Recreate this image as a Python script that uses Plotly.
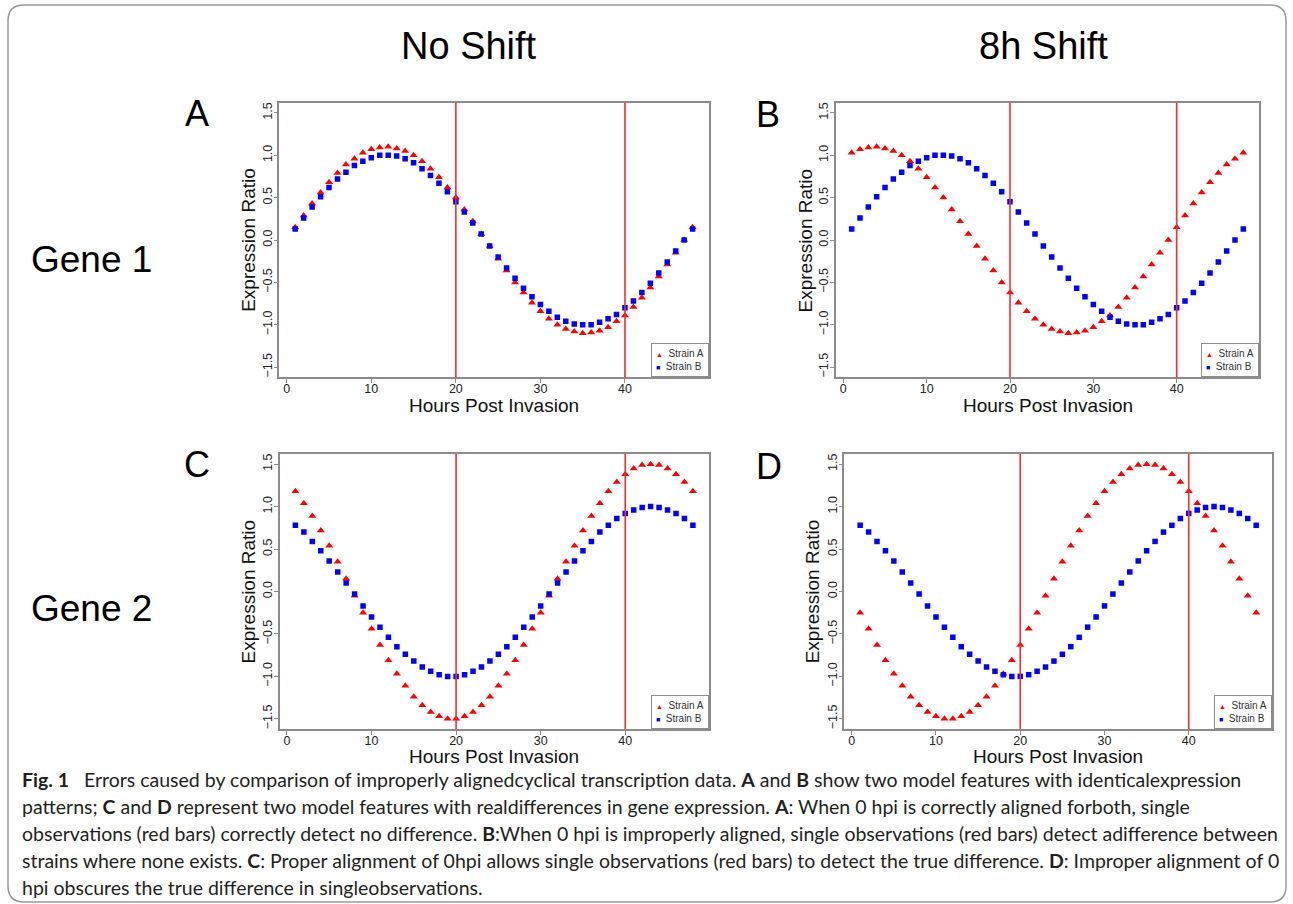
import plotly.graph_objects as go

W, H = 1293, 904

# ---------------- data ----------------
hours = [1, 2, 3, 4, 5, 6, 7, 8, 9, 10, 11, 12, 13, 14, 15, 16, 17, 18, 19, 20,
         21, 22, 23, 24, 25, 26, 27, 28, 29, 30, 31, 32, 33, 34, 35, 36, 37, 38, 39, 40,
         41, 42, 43, 44, 45, 46, 47, 48]

gene1_strain_b = [0.13, 0.26, 0.39, 0.51, 0.62, 0.72, 0.80, 0.88, 0.93, 0.97,
                  1.00, 1.00, 0.99, 0.96, 0.91, 0.84, 0.76, 0.67, 0.57, 0.45,
                  0.33, 0.20, 0.07, -0.07, -0.20, -0.33, -0.45, -0.57, -0.67, -0.76,
                  -0.84, -0.91, -0.96, -0.99, -1.00, -1.00, -0.97, -0.93, -0.88, -0.80,
                  -0.72, -0.62, -0.51, -0.39, -0.26, -0.13, 0.00, 0.13]

gene1_strain_a_noshift = [0.15, 0.29, 0.43, 0.56, 0.68, 0.79, 0.89, 0.96, 1.03, 1.07,
                          1.09, 1.10, 1.08, 1.05, 1.00, 0.93, 0.84, 0.74, 0.62, 0.50,
                          0.36, 0.22, 0.07, -0.07, -0.22, -0.36, -0.50, -0.62, -0.74, -0.84,
                          -0.93, -1.00, -1.05, -1.08, -1.10, -1.09, -1.07, -1.03, -0.96, -0.89,
                          -0.79, -0.68, -0.56, -0.43, -0.29, -0.15, 0.00, 0.15]

gene1_strain_a_shift = [1.03, 1.07, 1.09, 1.10, 1.08, 1.05, 1.00, 0.93, 0.84, 0.74,
                        0.62, 0.50, 0.36, 0.22, 0.07, -0.07, -0.22, -0.36, -0.50, -0.62,
                        -0.74, -0.84, -0.93, -1.00, -1.05, -1.08, -1.10, -1.09, -1.07, -1.03,
                        -0.96, -0.89, -0.79, -0.68, -0.56, -0.43, -0.29, -0.15, 0.00, 0.15,
                        0.29, 0.43, 0.56, 0.68, 0.79, 0.89, 0.96, 1.03]

gene2_strain_b = [0.78, 0.70, 0.59, 0.48, 0.36, 0.23, 0.10, -0.03, -0.17, -0.30,
                  -0.42, -0.54, -0.65, -0.74, -0.82, -0.89, -0.94, -0.98, -1.00, -1.00,
                  -0.98, -0.94, -0.89, -0.82, -0.74, -0.65, -0.54, -0.42, -0.30, -0.17,
                  -0.03, 0.10, 0.23, 0.36, 0.48, 0.59, 0.70, 0.78, 0.86, 0.92,
                  0.96, 0.99, 1.00, 0.99, 0.96, 0.92, 0.86, 0.78]

gene2_strain_a_noshift = [1.18, 1.04, 0.89, 0.72, 0.54, 0.35, 0.15, -0.05, -0.25, -0.44,
                          -0.63, -0.81, -0.97, -1.11, -1.24, -1.34, -1.42, -1.47, -1.50, -1.50,
                          -1.47, -1.42, -1.34, -1.24, -1.11, -0.97, -0.81, -0.63, -0.44, -0.25,
                          -0.05, 0.15, 0.35, 0.54, 0.72, 0.89, 1.04, 1.18, 1.29, 1.38,
                          1.45, 1.49, 1.50, 1.49, 1.45, 1.38, 1.29, 1.18]

gene2_strain_a_shift = [-0.25, -0.44, -0.63, -0.81, -0.97, -1.11, -1.24, -1.34, -1.42, -1.47,
                        -1.50, -1.50, -1.47, -1.42, -1.34, -1.24, -1.11, -0.97, -0.81, -0.63,
                        -0.44, -0.25, -0.05, 0.15, 0.35, 0.54, 0.72, 0.89, 1.04, 1.18,
                        1.29, 1.38, 1.45, 1.49, 1.50, 1.49, 1.45, 1.38, 1.29, 1.18,
                        1.04, 0.89, 0.72, 0.54, 0.35, 0.15, -0.05, -0.25]

marker_hours = [20, 40]
x_ticks = [0, 10, 20, 30, 40]
y_ticks = [-1.5, -1.0, -0.5, 0.0, 0.5, 1.0, 1.5]
series_names = ["Strain A", "Strain B"]
panel_letters = ["A", "B", "C", "D"]
column_titles = ["No Shift", "8h Shift"]
row_labels = ["Gene 1", "Gene 2"]
x_title = "Hours Post Invasion"
y_title = "Expression Ratio"

caption_lines = [
    "<b>Fig. 1</b>\u00a0\u00a0 Errors caused by comparison of improperly alignedcyclical transcription data. <b>A</b> and <b>B</b> show two model features with identicalexpression",
    "patterns; <b>C</b> and <b>D</b> represent two model features with realdifferences in gene expression. <b>A</b>: When 0 hpi is correctly aligned forboth, single",
    "observations (red bars) correctly detect no difference. <b>B</b>:When 0 hpi is improperly aligned, single observations (red bars) detect adifference between",
    "strains where none exists. <b>C</b>: Proper alignment of 0hpi allows single observations (red bars) to detect the true difference. <b>D</b>: Improper alignment of 0",
    "hpi obscures the true difference in singleobservations.",
]

# ---------------- layout helpers ----------------
def px(x):
    return x / W


def py(y):
    return 1 - y / H


RED = "#ff0000"
BLUE = "#0000ff"
AXIS_GREY = "#8c8c8c"
FONT = "Liberation Sans, Arial, sans-serif"

# pixel boxes of the four plot areas: (left, right, top, bottom)
boxes = [
    (279.3, 708.5, 102.7, 377.3),
    (836.0, 1259.0, 102.7, 377.3),
    (279.5, 708.8, 454.0, 729.0),
    (844.3, 1272.0, 454.0, 729.0),
]
panel_series = [
    (gene1_strain_a_noshift, gene1_strain_b),
    (gene1_strain_a_shift, gene1_strain_b),
    (gene2_strain_a_noshift, gene2_strain_b),
    (gene2_strain_a_shift, gene2_strain_b),
]
letter_pos = [(197, 113), (768, 114), (197, 464), (769, 466)]
xtitle_gap = [28, 28, 27, 27]

fig = go.Figure()
layout = dict(
    width=W, height=H,
    margin=dict(l=0, r=0, t=0, b=0),
    paper_bgcolor="white", plot_bgcolor="white",
    showlegend=False,
    font=dict(family=FONT, color="#222222"),
)
annotations = []
shapes = []

for i, (box, (sa, sb)) in enumerate(zip(boxes, panel_series)):
    n = "" if i == 0 else str(i + 1)
    xa, ya = "x" + n, "y" + n
    left, right, top, bottom = box
    fig.add_trace(go.Scatter(
        x=hours, y=sa, mode="markers", name=series_names[0],
        xaxis=xa, yaxis=ya,
        marker=dict(symbol="triangle-up", size=7, color=RED, line=dict(width=0)),
    ))
    fig.add_trace(go.Scatter(
        x=hours, y=sb, mode="markers", name=series_names[1],
        xaxis=xa, yaxis=ya,
        marker=dict(symbol="square", size=5.5, color=BLUE, line=dict(width=0)),
    ))
    common = dict(
        showgrid=False, zeroline=False, showline=True, mirror=True,
        linecolor=AXIS_GREY, linewidth=1.5,
        ticks="outside", ticklen=4, tickwidth=1, tickcolor=AXIS_GREY,
        tickfont=dict(family=FONT, size=12.5, color="#222222"),
        automargin=False, fixedrange=True,
    )
    layout["xaxis" + n] = dict(
        common, domain=[px(left), px(right)], anchor=ya,
        range=[-0.88, 49.88], tickvals=x_ticks, ticklabelstandoff=-5,
    )
    layout["yaxis" + n] = dict(
        common, domain=[py(bottom), py(top)], anchor=xa,
        range=[-1.62, 1.62], tickvals=y_ticks, tickformat=".1f", tickangle=-90,
        ticklabelstandoff=-3,
    )
    for hx in marker_hours:
        shapes.append(dict(
            type="line", xref=xa, yref=ya + " domain", x0=hx, x1=hx, y0=0, y1=1,
            line=dict(color="#ff2a2a", width=1.6), layer="above",
        ))
    # axis titles
    annotations.append(dict(
        text=x_title, xref=xa + " domain", yref=ya + " domain", x=0.5, y=0,
        xanchor="center", yanchor="middle", yshift=-xtitle_gap[i], showarrow=False,
        font=dict(family=FONT, size=19, color="#111111"),
    ))
    annotations.append(dict(
        text=y_title, xref=xa + " domain", yref=ya + " domain", x=0, y=0.5,
        xanchor="center", yanchor="middle", xshift=-31.5, textangle=-90, showarrow=False,
        font=dict(family=FONT, size=19, color="#111111"),
    ))
    # legend box
    annotations.append(dict(
        text=(f'<span style="color:{RED};font-size:7px">▲</span>\u00a0 {series_names[0]}<br>'
              f'<span style="color:{BLUE};font-size:7px">■</span>\u00a0 {series_names[1]}'),
        xref=xa + " domain", yref=ya + " domain", x=1, y=0,
        xanchor="right", yanchor="bottom", align="left", showarrow=False,
        bgcolor="white", bordercolor=AXIS_GREY, borderwidth=1, borderpad=4,
        font=dict(family=FONT, size=10, color="#333333"),
    ))
    # panel letter
    lx, ly = letter_pos[i]
    annotations.append(dict(
        text=panel_letters[i], xref="paper", yref="paper", x=px(lx), y=py(ly),
        xanchor="center", yanchor="middle", showarrow=False,
        font=dict(family=FONT, size=36, color="#000000"),
    ))

# column titles and row labels
for title, cx in zip(column_titles, [469, 1043]):
    annotations.append(dict(
        text=title, xref="paper", yref="paper", x=px(cx), y=py(46),
        xanchor="center", yanchor="middle", showarrow=False,
        font=dict(family=FONT, size=38, color="#000000"),
    ))
for label, cy in zip(row_labels, [259, 608]):
    annotations.append(dict(
        text=label, xref="paper", yref="paper", x=px(91), y=py(cy),
        xanchor="center", yanchor="middle", showarrow=False,
        font=dict(family=FONT, size=37, color="#000000"),
    ))

# caption
for line, cy in zip(caption_lines, [779, 806, 833, 860, 887]):
    annotations.append(dict(
        text=line, xref="paper", yref="paper", x=px(20), y=py(cy),
        xanchor="left", yanchor="middle", align="left", showarrow=False,
        font=dict(family="Lato, Open Sans, sans-serif", size=19.5, color="#231f20"),
    ))

# outer rounded frame
x0, x1, yt, yb = px(8), px(1286), py(5), py(902)
rx, ry = 16 / W, 16 / H
frame = (f"M{x0 + rx},{yt} L{x1 - rx},{yt} Q{x1},{yt} {x1},{yt - ry} "
         f"L{x1},{yb + ry} Q{x1},{yb} {x1 - rx},{yb} L{x0 + rx},{yb} "
         f"Q{x0},{yb} {x0},{yb + ry} L{x0},{yt - ry} Q{x0},{yt} {x0 + rx},{yt} Z")
shapes.append(dict(type="path", xref="paper", yref="paper", path=frame,
                   line=dict(color="#9a9a9a", width=1.5), layer="below"))

layout["annotations"] = annotations
layout["shapes"] = shapes
fig.update_layout(**layout)
fig.write_html(
    "out.html",
    config={"displayModeBar": False},
    post_script="document.body.style.margin='0';document.body.style.overflow='hidden';",
)
